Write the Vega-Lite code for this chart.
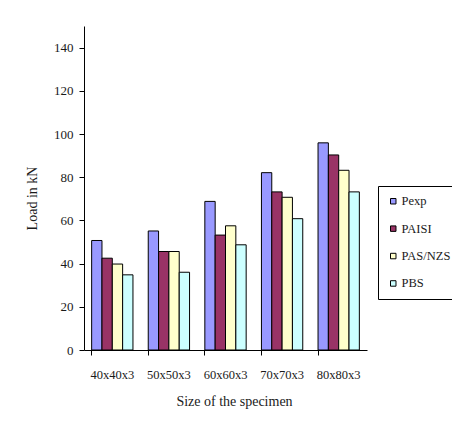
{
  "$schema": "https://vega.github.io/schema/vega-lite/v6.json",
  "width": 283,
  "height": 324,
  "autosize": {"type": "none"},
  "padding": {"left": 84, "top": 26, "right": 85, "bottom": 85},
  "background": "white",
  "config": {
    "font": "Liberation Serif",
    "view": {"stroke": null},
    "axis": {
      "grid": false,
      "domainColor": "#000000",
      "tickColor": "#000000",
      "labelColor": "#1a1a1a",
      "titleColor": "#1a1a1a",
      "titleFontWeight": "normal",
      "labelFont": "Liberation Serif",
      "titleFont": "Liberation Serif"
    }
  },
  "data": {
    "values": [
      {"size": "40x40x3", "series": "Pexp", "load": 50.7},
      {"size": "40x40x3", "series": "PAISI", "load": 42.5},
      {"size": "40x40x3", "series": "PAS/NZS", "load": 39.8},
      {"size": "40x40x3", "series": "PBS", "load": 34.8},
      {"size": "50x50x3", "series": "Pexp", "load": 55.1},
      {"size": "50x50x3", "series": "PAISI", "load": 45.6},
      {"size": "50x50x3", "series": "PAS/NZS", "load": 45.6},
      {"size": "50x50x3", "series": "PBS", "load": 36.0},
      {"size": "60x60x3", "series": "Pexp", "load": 68.8},
      {"size": "60x60x3", "series": "PAISI", "load": 53.2},
      {"size": "60x60x3", "series": "PAS/NZS", "load": 57.5},
      {"size": "60x60x3", "series": "PBS", "load": 48.7},
      {"size": "70x70x3", "series": "Pexp", "load": 82.1},
      {"size": "70x70x3", "series": "PAISI", "load": 73.2},
      {"size": "70x70x3", "series": "PAS/NZS", "load": 70.7},
      {"size": "70x70x3", "series": "PBS", "load": 60.8},
      {"size": "80x80x3", "series": "Pexp", "load": 95.9},
      {"size": "80x80x3", "series": "PAISI", "load": 90.3},
      {"size": "80x80x3", "series": "PAS/NZS", "load": 83.2},
      {"size": "80x80x3", "series": "PBS", "load": 73.2}
    ]
  },
  "mark": {"type": "bar", "stroke": "#000000", "strokeWidth": 1},
  "encoding": {
    "x": {
      "field": "size",
      "type": "nominal",
      "sort": null,
      "scale": {"paddingInner": 0.27, "paddingOuter": 0.135},
      "axis": {
        "title": "Size of the specimen",
        "titleFontSize": 14,
        "titlePadding": 14,
        "titleX": 150,
        "labelAngle": 0,
        "labelFontSize": 12.5,
        "bandPosition": 0,
        "labelOffset": 0,
        "tickSize": 5,
        "labelPadding": 13
      }
    },
    "xOffset": {
      "field": "series",
      "type": "nominal",
      "sort": ["Pexp", "PAISI", "PAS/NZS", "PBS"],
      "scale": {"paddingInner": 0, "paddingOuter": 0}
    },
    "y": {
      "field": "load",
      "type": "quantitative",
      "scale": {"domain": [0, 150], "nice": false},
      "axis": {
        "title": "Load in kN",
        "titleFontSize": 14,
        "titlePadding": 14,
        "titleY": 172,
        "values": [0, 20, 40, 60, 80, 100, 120, 140],
        "labelFontSize": 13,
        "tickSize": 5,
        "labelPadding": 6
      }
    },
    "color": {
      "field": "series",
      "type": "nominal",
      "sort": ["Pexp", "PAISI", "PAS/NZS", "PBS"],
      "scale": {
        "domain": ["Pexp", "PAISI", "PAS/NZS", "PBS"],
        "range": ["#9999FF", "#993366", "#FFFFCC", "#CCFFFF"]
      },
      "legend": {
        "title": null,
        "orient": "none",
        "legendX": 294,
        "legendY": 160,
        "strokeColor": "#000000",
        "fillColor": "#ffffff",
        "padding": 9,
        "rowPadding": 14.4,
        "symbolType": "square",
        "symbolSize": 30,
        "symbolStrokeColor": "#000000",
        "symbolStrokeWidth": 1,
        "labelFontSize": 12.5,
        "labelFont": "Liberation Serif",
        "labelColor": "#1a1a1a",
        "labelOffset": 2
      }
    }
  }
}
